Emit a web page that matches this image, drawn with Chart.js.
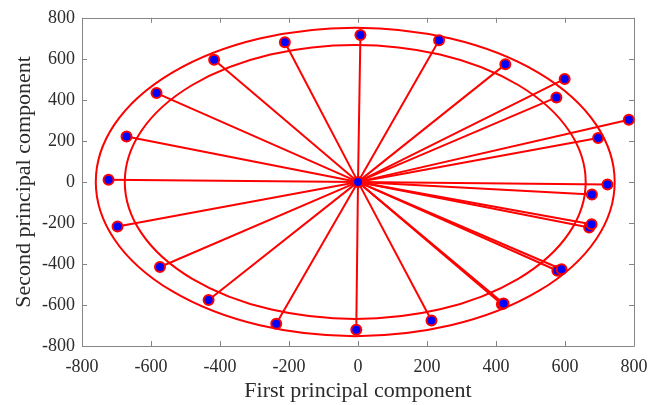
<!DOCTYPE html>
<html>
<head>
<meta charset="utf-8">
<title>Principal components</title>
<script src="https://cdn.jsdelivr.net/npm/chart.js@4/dist/chart.umd.min.js"></script>
<style>
  html, body { margin: 0; padding: 0; background: #fff; }
  #pca { display: block; }
</style>
</head>
<body>
<canvas id="pca" width="662" height="405"></canvas>
<script>
// scores on the first two principal components
var pc1 = [-723, -671, -584, -417, -212, 7, 235, 427, 599, 575, 785, 696, 723, 678,
           670, 677, 578, 590, 417, 422, 213, -5, -237, -433, -574, -697];
var pc2 = [10, 221, 433, 595, 681, 716, 690, 573, 502, 412, 303, 214, -13, -61,
           -222, -206, -433, -426, -597, -593, -676, -721, -692, -576, -415, -217];
var center = [0, 0];

// the two reference rings: centre and radius in data units
var ringCenter = [-8, 0];
var ringRadii = [752, 668];

var axisMin = -800;
var axisMax = 800;
var axisStep = 200;

var red = '#ff0000';
var blue = '#0000ff';
var axisGray = '#858585';
var textColor = '#2b2b2b';
var serif = '"Liberation Serif", "Times New Roman", serif';

function buildDatasets() {
    var sets = [];
    var points = [{ x: center[0], y: center[1] }];
    for (var i = 0; i < pc1.length; i++) {
        points.push({ x: pc1[i], y: pc2[i] });
    }
    sets.push({
        label: 'scores',
        data: points,
        pointRadius: 5,
        pointBorderWidth: 2,
        pointBackgroundColor: blue,
        pointBorderColor: red,
        showLine: false,
        clip: false,
        order: 0
    });
    // one spoke per sample, from the centre out to the score
    for (var j = 0; j < pc1.length; j++) {
        sets.push({
            label: 'spoke' + j,
            data: [{ x: center[0], y: center[1] }, { x: pc1[j], y: pc2[j] }],
            showLine: true,
            borderColor: red,
            borderWidth: 2,
            pointRadius: 0,
            order: 1
        });
    }
    return sets;
}

var ringsPlugin = {
    id: 'rings',
    beforeDatasetsDraw: function (chart) {
        var ctx = chart.ctx;
        var xs = chart.scales.x;
        var ys = chart.scales.y;
        var cx = xs.getPixelForValue(ringCenter[0]);
        var cy = ys.getPixelForValue(ringCenter[1]);
        ctx.save();
        ctx.strokeStyle = red;
        ctx.lineWidth = 2;
        ringRadii.forEach(function (r) {
            var rx = Math.abs(xs.getPixelForValue(ringCenter[0] + r) - cx);
            var ry = Math.abs(ys.getPixelForValue(ringCenter[1] + r) - cy);
            ctx.beginPath();
            ctx.ellipse(cx, cy, rx, ry, 0, 0, Math.PI * 2);
            ctx.stroke();
        });
        ctx.restore();
    }
};

// closed box with inward tick marks on all four sides
var boxPlugin = {
    id: 'box',
    beforeDatasetsDraw: function (chart) {
        var ctx = chart.ctx;
        var a = chart.chartArea;
        var tick = 5;
        ctx.save();
        ctx.strokeStyle = axisGray;
        ctx.lineWidth = 1;
        ctx.beginPath();
        ctx.rect(Math.round(a.left) + 0.5, Math.round(a.top) + 0.5,
                 Math.round(a.right - a.left), Math.round(a.bottom - a.top));
        chart.scales.x.ticks.forEach(function (t) {
            var px = Math.round(chart.scales.x.getPixelForValue(t.value)) + 0.5;
            ctx.moveTo(px, a.bottom);
            ctx.lineTo(px, a.bottom - tick);
            ctx.moveTo(px, a.top);
            ctx.lineTo(px, a.top + tick);
        });
        chart.scales.y.ticks.forEach(function (t) {
            var py = Math.round(chart.scales.y.getPixelForValue(t.value)) + 0.5;
            ctx.moveTo(a.left, py);
            ctx.lineTo(a.left + tick, py);
            ctx.moveTo(a.right, py);
            ctx.lineTo(a.right - tick, py);
        });
        ctx.stroke();
        ctx.restore();
    }
};

var ctx = document.getElementById('pca');
var chart = new Chart(ctx, {
    type: 'scatter',
    data: { datasets: buildDatasets() },
    plugins: [ringsPlugin, boxPlugin],
    options: {
        responsive: false,
        animation: false,
        layout: { padding: { top: 14, right: 28, left: 0, bottom: 0 } },
        plugins: {
            legend: { display: false },
            tooltip: { enabled: false }
        },
        scales: {
            x: {
                type: 'linear',
                min: axisMin,
                max: axisMax,
                afterFit: function (scale) { scale.height = 59; },
                grid: { display: false, drawTicks: false },
                border: { display: false },
                ticks: {
                    stepSize: axisStep,
                    padding: 10,
                    color: textColor,
                    font: { family: serif, size: 18 }
                },
                title: {
                    display: true,
                    text: 'First principal component',
                    color: textColor,
                    font: { family: serif, size: 22 },
                    padding: { top: 0, bottom: 1 }
                }
            },
            y: {
                type: 'linear',
                min: axisMin,
                max: axisMax,
                afterFit: function (scale) { scale.width = 82; },
                grid: { display: false, drawTicks: false },
                border: { display: false },
                ticks: {
                    stepSize: axisStep,
                    padding: 7,
                    color: textColor,
                    font: { family: serif, size: 18 }
                },
                title: {
                    display: true,
                    text: 'Second principal component',
                    color: textColor,
                    font: { family: serif, size: 22 },
                    padding: { top: 11, bottom: 0 }
                }
            }
        }
    }
});
</script>
</body>
</html>
